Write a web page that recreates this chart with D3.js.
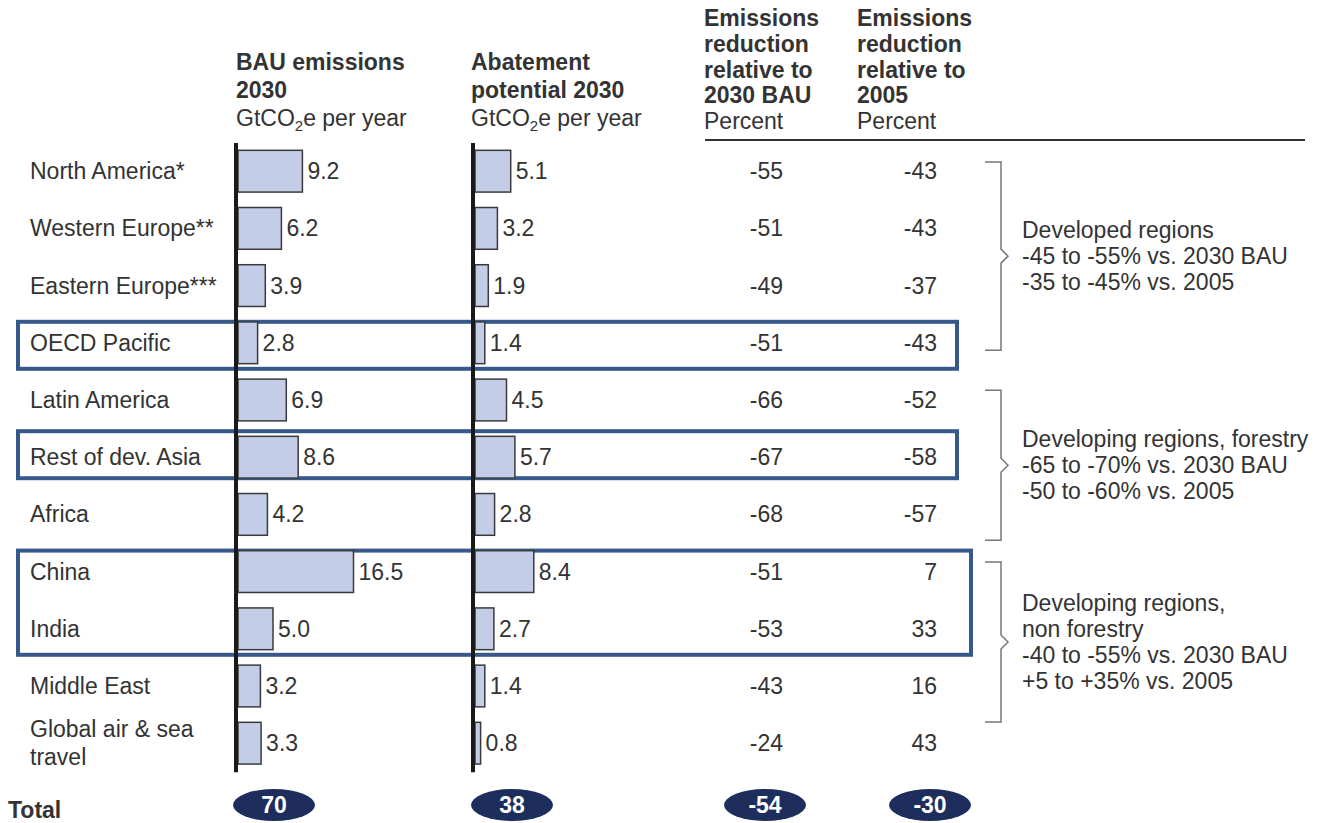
<!DOCTYPE html>
<html lang="en">
<head>
    <meta charset="UTF-8">
    <title>Emissions abatement by region</title>
    <script src="https://d3js.org/d3.v7.min.js"></script>
    <style>
        body {
            margin: 0;
            background: #ffffff;
            font-family: Arial, "Liberation Sans", sans-serif;
        }
        text {
            fill: #333;
        }
        .bar {
            fill: #c3cde8;
            stroke: #3a3a3a;
            stroke-width: 1.5;
        }
        .axis path {
            stroke: #1a1a1a;
            stroke-width: 4;
        }
        .axis .tick {
            display: none;
        }
    </style>
</head>
<body>
    <div id="chart"></div>

    <script>
        const regions = ["North America*", "Western Europe**", "Eastern Europe***", "OECD Pacific",
            "Latin America", "Rest of dev. Asia", "Africa", "China", "India", "Middle East",
            "Global air & sea travel"];
        const bau2030 = [9.2, 6.2, 3.9, 2.8, 6.9, 8.6, 4.2, 16.5, 5.0, 3.2, 3.3];
        const abatement2030 = [5.1, 3.2, 1.9, 1.4, 4.5, 5.7, 2.8, 8.4, 2.7, 1.4, 0.8];
        const vsBau = [-55, -51, -49, -51, -66, -67, -68, -51, -53, -43, -24];
        const vs2005 = [-43, -43, -37, -43, -52, -58, -57, 7, 33, 16, 43];
        const totals = [70, 38, -54, -30];

        const groupNotes = [
            ["Developed regions", "-45 to -55% vs. 2030 BAU", "-35 to -45% vs. 2005"],
            ["Developing regions, forestry", "-65 to -70% vs. 2030 BAU", "-50 to -60% vs. 2005"],
            ["Developing regions,", "non forestry", "-40 to -55% vs. 2030 BAU", "+5 to +35% vs. 2005"]
        ];
        // bracket extents in row units
        const groupRows = [[0.34, 3.63], [4.33, 6.95], [7.33, 10.13]];
        // highlighted rows: first, last
        const boxRows = [[3, 3], [5, 5], [7, 8]];

        const W = 1324, H = 823;
        const FS = 23;
        const svg = d3.select("#chart").append("svg")
            .attr("width", W)
            .attr("height", H);

        const y = d3.scaleBand()
            .domain(regions)
            .range([142.6, 771.8])
            .paddingInner(0.27)
            .paddingOuter(0.135);
        const rowY = d3.scaleLinear().domain([0, regions.length]).range([142.6, 771.8]);
        const x = d3.scaleLinear().domain([0, 16.5]).range([0, 115.5]);

        const mid = d => y(d) + y.bandwidth() / 2;
        const rows = regions.map((r, i) => ({ r, i }));

        // headers
        function header(x0, lines, y0, step) {
            const g = svg.append("g");
            lines.forEach((l, i) => {
                const t = g.append("text")
                    .attr("x", x0)
                    .attr("y", y0 + i * step)
                    .attr("font-size", FS)
                    .attr("font-weight", l.bold ? "bold" : "normal");
                if (l.sub) {
                    t.append("tspan").text("GtCO");
                    t.append("tspan").text("2").attr("font-size", 15).attr("dy", 5);
                    t.append("tspan").text("e per year").attr("dy", -5);
                } else {
                    t.text(l.t);
                }
            });
        }
        header(236, [{ t: "BAU emissions", bold: true }, { t: "2030", bold: true }, { sub: true }], 70, 28);
        header(471, [{ t: "Abatement", bold: true }, { t: "potential 2030", bold: true }, { sub: true }], 70, 28);
        header(704, [{ t: "Emissions", bold: true }, { t: "reduction", bold: true }, { t: "relative to", bold: true },
            { t: "2030 BAU", bold: true }, { t: "Percent" }], 26, 25.8);
        header(857, [{ t: "Emissions", bold: true }, { t: "reduction", bold: true }, { t: "relative to", bold: true },
            { t: "2005", bold: true }, { t: "Percent" }], 26, 25.8);

        svg.append("line")
            .attr("x1", 705).attr("x2", 1305)
            .attr("y1", 140).attr("y2", 140)
            .attr("stroke", "#333").attr("stroke-width", 2);

        // region labels
        rows.forEach(d => {
            const t = svg.append("text")
                .attr("x", 30)
                .attr("font-size", FS);
            if (d.r === "Global air & sea travel") {
                t.append("tspan").attr("x", 30).attr("y", mid(d.r) - 6).text("Global air & sea");
                t.append("tspan").attr("x", 30).attr("y", mid(d.r) + 22).text("travel");
            } else {
                t.attr("y", mid(d.r) + 8).text(d.r);
            }
        });

        // highlight boxes
        svg.selectAll(".hl")
            .data(boxRows)
            .enter()
            .append("rect")
            .attr("class", "hl")
            .attr("x", 18)
            .attr("y", (d, i) => mid(regions[d[0]]) - (i === 1 ? 26 : 21))
            .attr("width", (d, i) => i === 2 ? 953 : 939)
            .attr("height", d => mid(regions[d[1]]) - mid(regions[d[0]]) + 47)
            .attr("fill", "none")
            .attr("stroke", "#37588a")
            .attr("stroke-width", 4);

        // bar columns
        function barColumn(x0, values) {
            const g = svg.append("g").attr("transform", `translate(${x0},0)`);
            g.selectAll(".bar")
                .data(values)
                .enter()
                .append("rect")
                .attr("class", "bar")
                .attr("x", 0)
                .attr("y", (d, i) => y(regions[i]))
                .attr("width", d => x(d))
                .attr("height", y.bandwidth());
            g.selectAll(".val")
                .data(values)
                .enter()
                .append("text")
                .attr("class", "val")
                .attr("x", d => x(d) + 5)
                .attr("y", (d, i) => mid(regions[i]) + 8)
                .attr("font-size", FS)
                .text(d => d.toFixed(1));
            svg.append("g")
                .attr("class", "axis")
                .attr("transform", `translate(${x0 - 2.5},0)`)
                .call(d3.axisLeft(y).tickSize(0).tickSizeOuter(0).tickFormat(""));
        }
        barColumn(238, bau2030);
        barColumn(475, abatement2030);

        // percent columns
        function pctColumn(xr, values) {
            svg.append("g").selectAll("text")
                .data(values)
                .enter()
                .append("text")
                .attr("x", xr)
                .attr("y", (d, i) => mid(regions[i]) + 8)
                .attr("text-anchor", "end")
                .attr("font-size", FS)
                .text(d => d);
        }
        pctColumn(783, vsBau);
        pctColumn(937, vs2005);

        // brackets + notes
        groupRows.forEach((gr, i) => {
            const y0 = rowY(gr[0]), y1 = rowY(gr[1]), ym = (y0 + y1) / 2;
            const bx = 1001;
            svg.append("path")
                .attr("d", `M${bx - 16},${y0}H${bx}V${ym - 7}L${bx + 7},${ym}L${bx},${ym + 7}V${y1}H${bx - 16}`)
                .attr("fill", "none")
                .attr("stroke", "#777")
                .attr("stroke-width", 1.5);
            const lines = groupNotes[i];
            lines.forEach((l, j) => {
                svg.append("text")
                    .attr("x", 1022)
                    .attr("y", ym + (j - (lines.length - 1) / 2) * 26 + 8)
                    .attr("font-size", FS)
                    .text(l);
            });
        });

        // totals
        svg.append("text")
            .attr("x", 8).attr("y", 818)
            .attr("font-size", FS).attr("font-weight", "bold")
            .text("Total");
        const totalX = [274, 512, 765, 930];
        totals.forEach((v, i) => {
            svg.append("ellipse")
                .attr("cx", totalX[i]).attr("cy", 805)
                .attr("rx", 41).attr("ry", 16)
                .attr("fill", "#1d2d5c");
            svg.append("text")
                .attr("x", totalX[i]).attr("y", 813)
                .attr("text-anchor", "middle")
                .attr("font-size", FS).attr("font-weight", "bold")
                .style("fill", "#fff")
                .text(v);
        });
    </script>
</body>
</html>
